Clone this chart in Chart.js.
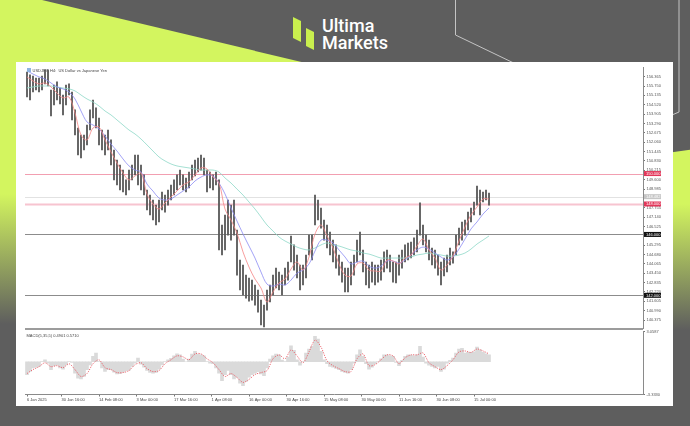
<!DOCTYPE html>
<html>
<head>
<meta charset="utf-8">
<script src="https://cdn.jsdelivr.net/npm/chart.js@4.4.1/dist/chart.umd.min.js"></script>
<style>
  html, body { margin: 0; padding: 0; }
  body { width: 690px; height: 426px; position: relative; overflow: hidden; background: #5e5e5e; }
  #bg { position: absolute; left: 0; top: 0; }
  #panel { position: absolute; left: 16px; top: 62px; width: 657px; height: 344px; background: #fff; }
  canvas.chart { position: absolute; left: 0; top: 0; }
</style>
</head>
<body>

<svg id="bg" width="690" height="426">
  <defs>
    <linearGradient id="gRight" x1="0" y1="0" x2="0" y2="1">
      <stop offset="0" stop-color="#d3f55f"/>
      <stop offset="0.3" stop-color="#d3f55f"/>
      <stop offset="1" stop-color="#5e5e5e"/>
    </linearGradient>
    <linearGradient id="gLeft" x1="0" y1="0" x2="0" y2="1">
      <stop offset="0" stop-color="#d3f55f"/>
      <stop offset="0.5" stop-color="#d3f55f"/>
      <stop offset="1" stop-color="#5e5e5e"/>
    </linearGradient>
  </defs>
  <rect width="690" height="426" fill="#5e5e5e"/>
  <polygon points="0,0 42,0 310,64 0,64" fill="#d3f55f"/>
  <rect x="0" y="64" width="16" height="260" fill="url(#gLeft)"/>
  <polygon points="672,152.3 690,149.8 690,330 672,330" fill="url(#gRight)"/>
  <polyline points="455.5,0 455.5,35 520,66" stroke="#c4c4c4" stroke-width="1" fill="none"/>
  <polyline points="679,0 679,112 672,115" stroke="#c4c4c4" stroke-width="1" fill="none"/>
  <!-- logo -->
  <polygon points="293,17 301,21 301,42 293,38" fill="#c9ef4e"/>
  <polygon points="306,28 314,32 314,50 306,46" fill="#c9ef4e"/>
  <text x="322" y="31.7" font-family="Roboto" font-weight="500" font-size="18" fill="#ffffff">Ultima</text>
  <text x="322" y="49.3" font-family="Roboto" font-weight="500" font-size="18" fill="#ffffff">Markets</text>
</svg>
<div id="panel"></div>
<canvas id="price" class="chart" width="690" height="426"></canvas>
<canvas id="macd" class="chart" width="690" height="426"></canvas>

<script>
/* =========================
   DATA (USDJPY H4)
   one sample ~ 5 H4 bars
========================= */

const barHigh = [
  156.67, 156.48, 156.41, 156.28, 156.28, 156.41, 156.81, 156.81, 155.49, 155.82,
  156.02, 155.62, 155.16, 155.82, 155.89, 155.36, 154.18, 152.99, 152.53, 152.53,
  153.19, 154.18, 154.83, 154.31, 153.65, 152.86, 152.53, 152.86, 152.21, 151.55,
  150.89, 150.56, 150.23, 149.58, 150.23, 150.56, 151.22, 151.22, 150.56, 149.91,
  148.92, 148.59, 148.26, 147.93, 148.26, 148.79, 148.59, 148.92, 149.25, 149.58,
  149.91, 150.23, 149.91, 149.71, 150.10, 150.56, 150.89, 151.02, 151.22, 151.02,
  150.23, 150.10, 149.91, 150.10, 149.58, 146.62, 147.28, 148.26, 147.93, 148.26,
  146.29, 144.32, 143.99, 143.33, 143.14, 143.00, 142.68, 142.35, 141.69, 141.36,
  142.35, 142.68, 143.33, 143.79, 143.53, 143.33, 143.79, 144.19, 145.90, 145.31,
  144.65, 143.99, 143.99, 144.65, 145.96, 145.96, 148.59, 148.26, 147.74, 146.95,
  146.62, 146.16, 145.63, 145.31, 144.65, 144.19, 143.79, 143.79, 144.19, 144.65,
  145.63, 146.16, 144.98, 144.19, 143.99, 144.19, 143.99, 143.99, 144.32, 144.85,
  144.98, 144.65, 144.19, 144.19, 144.65, 144.98, 145.31, 145.44, 145.50, 145.77,
  146.29, 148.07, 146.62, 145.96, 145.63, 145.11, 144.98, 144.65, 144.19, 144.45,
  144.65, 145.11, 144.85, 145.96, 146.42, 146.82, 146.95, 147.47, 147.74, 148.13,
  149.18, 148.92, 148.79, 148.92, 148.72
];

const barLow = [
  155.03, 154.83, 155.36, 155.49, 155.36, 155.49, 155.89, 155.75, 153.78, 154.51,
  154.83, 154.57, 153.85, 154.51, 155.16, 153.52, 152.53, 151.22, 151.02, 151.55,
  151.88, 152.86, 153.65, 152.99, 151.88, 151.55, 151.22, 151.55, 150.56, 149.58,
  149.25, 148.92, 148.79, 148.59, 148.92, 149.58, 149.91, 149.25, 148.92, 148.59,
  147.61, 147.28, 146.95, 146.62, 146.82, 147.61, 147.47, 147.93, 148.26, 148.59,
  148.92, 149.25, 148.92, 148.79, 149.05, 149.58, 149.84, 150.10, 150.23, 149.91,
  148.79, 149.05, 148.92, 149.25, 144.98, 144.65, 144.98, 145.96, 145.63, 145.96,
  143.33, 142.35, 142.02, 141.82, 141.62, 141.69, 141.36, 140.90, 140.05, 139.92,
  141.03, 141.56, 142.02, 142.48, 142.35, 142.02, 142.68, 143.00, 144.19, 143.66,
  143.14, 142.35, 142.68, 143.14, 144.65, 144.32, 146.62, 146.95, 146.42, 145.63,
  145.11, 144.65, 144.19, 143.79, 143.33, 142.87, 142.22, 142.22, 142.68, 143.33,
  144.19, 144.65, 143.53, 142.68, 142.48, 142.87, 142.68, 142.87, 143.00, 143.53,
  143.79, 143.53, 142.87, 142.81, 143.33, 143.79, 144.19, 144.32, 144.45, 144.65,
  144.85, 145.96, 145.31, 144.85, 144.32, 143.99, 143.79, 143.33, 142.68, 143.27,
  143.53, 143.99, 144.12, 144.65, 145.31, 145.63, 145.96, 146.29, 146.82, 147.28,
  147.93, 147.28, 148.13, 148.26, 147.93
];

// moving averages, one value every 2 samples
const maFast = [
  156.35, 156.08, 155.89, 155.95, 155.69, 155.29, 154.97, 155.03, 153.98, 152.53,
  152.21, 152.99, 153.06, 152.21, 151.42, 150.69, 150.04, 149.58, 149.84, 150.04,
  148.66, 148.00, 147.67, 148.07, 148.46, 148.85, 149.25, 149.45, 149.91, 150.37,
  150.30, 149.77, 149.38, 147.67, 146.95, 146.09, 144.85, 143.86, 143.07, 142.48,
  141.56, 142.22, 142.81, 143.07, 143.73, 144.19, 143.66, 144.52, 146.03, 146.62,
  145.90, 145.11, 144.06, 143.33, 143.27, 144.06, 144.12, 143.66, 143.60, 143.60,
  144.32, 144.25, 144.06, 144.45, 144.65, 145.24, 145.70, 144.98, 144.45, 143.66,
  143.99, 144.58, 145.57, 146.49, 147.28, 147.80, 148.33, 148.33
];
const maMid = [
  156.74, 156.54, 156.35, 156.21, 155.95, 155.69, 155.56, 155.36, 154.90, 154.11,
  153.39, 153.19, 152.93, 152.47, 151.94, 151.48, 150.96, 150.50, 150.23, 150.10,
  149.31, 148.85, 148.39, 148.26, 148.33, 148.59, 148.85, 149.12, 149.51, 149.77,
  149.91, 149.84, 149.38, 148.66, 147.74, 146.88, 146.03, 145.24, 144.45, 143.53,
  142.74, 142.61, 142.74, 142.68, 143.00, 143.46, 143.66, 144.06, 144.91, 145.63,
  145.63, 145.44, 144.98, 144.52, 144.06, 144.19, 144.25, 143.92, 143.79, 143.92,
  144.25, 144.25, 144.12, 144.32, 144.65, 144.98, 145.17, 145.04, 144.78, 144.52,
  144.32, 144.52, 145.04, 145.70, 146.36, 146.82, 147.34, 147.74
];
const maSlow = [
  155.62, 155.69, 155.75, 155.75, 155.75, 155.69, 155.62, 155.56, 155.43, 155.16,
  154.90, 154.70, 154.44, 154.11, 153.85, 153.52, 153.19, 152.86, 152.60, 152.27,
  151.88, 151.48, 151.09, 150.83, 150.63, 150.50, 150.43, 150.37, 150.30, 150.23,
  150.23, 150.23, 150.10, 149.71, 149.38, 148.98, 148.59, 148.13, 147.67, 147.15,
  146.62, 146.23, 145.83, 145.57, 145.37, 145.17, 145.04, 144.98, 145.11, 145.31,
  145.44, 145.31, 145.24, 145.11, 144.98, 144.91, 144.78, 144.71, 144.58, 144.45,
  144.45, 144.45, 144.45, 144.45, 144.52, 144.65, 144.71, 144.78, 144.71, 144.65,
  144.58, 144.58, 144.65, 144.78, 145.04, 145.37, 145.63, 145.90
];

// MACD main (histogram), one per sample
const macdMain = [
  -1.32, -0.98, -0.64, -0.54, -0.47, 0.03, 0.20, -0.14, -0.81, -0.41,
  -0.31, -0.64, -0.75, -0.31, 0.03, -0.07, -1.15, -1.66, -1.76, -1.49,
  -0.81, -0.31, 0.54, 0.88, 0.03, -0.64, -0.98, -0.81, -0.81, -1.05,
  -1.25, -1.22, -1.05, -0.92, -0.85, -0.47, -0.14, 0.37, -0.24, -0.54,
  -0.88, -1.08, -1.15, -1.08, -0.75, -0.31, 0.03, 0.20, 0.34, 0.61,
  0.81, 0.71, 0.27, 0.00, 0.27, 0.78, 1.05, 0.75, 0.71, 0.61,
  0.03, -0.14, -0.20, -0.64, -1.15, -1.93, -1.32, -0.88, -1.32, -1.76,
  -1.56, -2.17, -2.44, -2.00, -1.56, -1.32, -1.15, -1.02, -1.25, -1.42,
  -0.64, 0.27, 0.61, 0.78, 0.71, 0.17, 0.03, 0.47, 1.63, 1.15,
  0.20, -0.34, 0.03, 0.88, 1.29, 1.56, 2.58, 2.31, 1.05, 0.20,
  -0.20, -0.47, -0.54, -0.68, -0.81, -0.98, -1.08, -1.15, -0.81, -0.14,
  0.71, 1.22, 0.54, -0.20, -0.75, -0.54, -0.20, 0.03, 0.31, 0.71,
  0.71, 0.61, 0.54, -0.07, -0.41, 0.14, 0.54, 0.71, 0.68, 0.61,
  0.71, 1.56, 0.47, -0.14, -0.34, -0.47, -0.64, -0.47, -0.98, -0.75,
  -0.14, 0.14, 0.37, 0.88, 1.29, 1.36, 0.88, 0.95, 0.95, 1.02,
  1.49, 1.22, 0.95, 0.81, 0.71
];
// MACD signal, one value every 2 samples
const macdSignal = [
  -1.2, -0.8, -0.5, -0.1, -0.5, -0.4, -0.6, -0.2, -0.8, -1.5,
  -1.2, -0.2, 0.2, -0.6, -0.8, -1.1, -1.1, -0.9, -0.3, -0.1,
  -0.7, -1.0, -0.9, -0.2, 0.2, 0.6, 0.5, 0.2, 0.8, 0.8,
  0.3, -0.1, -0.8, -1.5, -1.2, -1.6, -2.1, -1.8, -1.3, -1.1,
  -0.9, 0.3, 0.7, 0.3, 1.2, 0.6, -0.1, 1.0, 2.2, 1.5,
  0.1, -0.4, -0.7, -1.0, -1.0, 0.3, 0.8, -0.4, -0.3, 0.2,
  0.7, 0.6, -0.2, 0.4, 0.7, 0.7, 0.9, -0.1, -0.5, -0.8,
  -0.4, 0.2, 1.0, 1.1, 0.95, 1.3, 1.1, 0.8
];

const priceTicks = [
  156.365, 155.750, 155.135, 154.520, 153.905, 153.290, 152.675, 152.060, 151.445,
  150.830, 150.215, 149.600, 148.985, 148.370, 147.755, 147.140, 146.525, 145.910,
  145.295, 144.680, 144.065, 143.450, 142.835, 142.220, 141.605, 140.990, 140.375
];
const macdTicks = [3.0587, -3.3330];

const dateLabels = [
  "6 Jan 2025", "30 Jan 16:00", "14 Feb 08:00", "3 Mar 00:00", "17 Mar 16:00",
  "1 Apr 08:00", "16 Apr 00:00", "30 Apr 16:00", "15 May 08:00", "30 May 00:00",
  "11 Jun 16:00", "30 Jun 08:00", "15 Jul 00:00"
];
const dateBars = [0, 59, 123, 187, 251, 315, 379, 443, 507, 571, 635, 699, 763];

const levelValues = [150.000, 148.482, 148.000, 146.000, 142.000];
const levelTexts  = ["150.000", "148.482", "148.000", "146.000", "142.000"];

/* =========================
   STYLE / LAYOUT
========================= */

const BARS_PER_SAMPLE = 5.12;
const MA_STEP = 2;
const X_MIN = -0.667;
const X_MAX = 205.333;

const levelStyles = [
  { line: "#f29fb1", width: 1, box: "#e2375a", text: "#fff" },
  { line: "#e2e2e2", width: 1, box: "#c6c6c6", text: "#fff" },
  { line: "#f7c4d0", width: 2, box: "#e2375a", text: "#fff" },
  { line: "#8c8c8c", width: 1, box: "#111111", text: "#fff" },
  { line: "#8c8c8c", width: 1, box: "#111111", text: "#fff" }
];

Chart.defaults.font.family = "'Liberation Sans', 'DejaVu Sans', sans-serif";
Chart.defaults.font.size = 4;

/* =========================
   PLUGINS
========================= */

const levelsPlugin = {
  id: "levels",
  beforeDatasetsDraw(chart) {
    const { ctx, chartArea } = chart;
    const y = chart.scales.y;
    ctx.save();
    levelValues.forEach((v, i) => {
      const st = levelStyles[i];
      const py = Math.round(y.getPixelForValue(v)) + 0.5;
      ctx.strokeStyle = st.line;
      ctx.lineWidth = st.width;
      ctx.beginPath();
      ctx.moveTo(chartArea.left, py);
      ctx.lineTo(chartArea.right, py);
      ctx.stroke();
    });
    ctx.restore();
  },
  afterDraw(chart) {
    const { ctx, chartArea } = chart;
    const y = chart.scales.y;
    ctx.save();
    // separator under price pane
    ctx.strokeStyle = "#9c9c9c";
    ctx.lineWidth = 2;
    ctx.beginPath();
    ctx.moveTo(chartArea.left, chartArea.bottom + 1);
    ctx.lineTo(chartArea.right, chartArea.bottom + 1);
    ctx.stroke();

    // level boxes on the price axis
    ctx.font = "4px 'Liberation Sans'";
    ctx.textBaseline = "middle";
    levelValues.forEach((v, i) => {
      const st = levelStyles[i];
      const py = y.getPixelForValue(v);
      ctx.fillStyle = st.box;
      ctx.fillRect(chartArea.right + 1, py - 2.5, 17, 5);
      ctx.fillStyle = st.text;
      ctx.fillText(levelTexts[i], chartArea.right + 3, py + 0.3);
    });

    // title
    ctx.fillStyle = "#8fb4e0";
    ctx.fillRect(chartArea.left + 2, chartArea.top + 1, 4, 4);
    ctx.fillStyle = "#444";
    ctx.textBaseline = "alphabetic";
    ctx.fillText("USDJPY, H4:  US Dollar vs Japanese Yen", chartArea.left + 7.5, chartArea.top + 4.5);
    ctx.restore();
  }
};

const macdTitle = {
  id: "macdTitle",
  afterDraw(chart) {
    const { ctx, chartArea } = chart;
    ctx.save();
    ctx.font = "4px 'Liberation Sans'";
    ctx.fillStyle = "#444";
    ctx.fillText("MACD(5,35,5) 0.4901 0.5710", chartArea.left + 1.5, chartArea.top + 5);
    ctx.restore();
  }
};

/* =========================
   PRICE CHART
========================= */

new Chart(document.getElementById("price"), {
  type: "bar",
  data: {
    datasets: [
      {
        type: "bar",
        data: barHigh.map((h, i) => ({ x: i, y: [barLow[i], h] })),
        backgroundColor: "#5c5c5c",
        borderWidth: 0,
        barThickness: 1.2,
        grouped: false,
        order: 4
      },
      {
        type: "line",
        data: maSlow.map((v, j) => ({ x: j * MA_STEP, y: v })),
        borderColor: "#8ed8c8",
        borderWidth: 0.8,
        pointRadius: 0,
        tension: 0.35,
        order: 3
      },
      {
        type: "line",
        data: maMid.map((v, j) => ({ x: j * MA_STEP, y: v })),
        borderColor: "#8b8bf4",
        borderWidth: 0.8,
        pointRadius: 0,
        tension: 0.35,
        order: 2
      },
      {
        type: "line",
        data: maFast.map((v, j) => ({ x: j * MA_STEP, y: v })),
        borderColor: "#f58585",
        borderWidth: 0.8,
        pointRadius: 0,
        tension: 0.35,
        order: 1
      }
    ]
  },
  options: {
    responsive: false,
    animation: false,
    devicePixelRatio: 1,
    layout: { padding: { left: 25, top: 67, right: 17, bottom: 98 } },
    plugins: { legend: { display: false }, tooltip: { enabled: false } },
    scales: {
      x: { type: "linear", min: X_MIN, max: X_MAX, offset: false, display: false },
      y: {
        position: "right",
        min: 139.854,
        max: 157.0,
        afterFit(s) { s.width = 30; },
        afterBuildTicks(s) { s.ticks = priceTicks.map(v => ({ value: v })); },
        ticks: { color: "#555", padding: 1.5, callback: v => v.toFixed(3) },
        grid: { drawOnChartArea: false, tickLength: 2, color: "#777" },
        border: { color: "#8a8a8a" }
      }
    }
  },
  plugins: [levelsPlugin]
});

/* =========================
   MACD CHART
========================= */

new Chart(document.getElementById("macd"), {
  type: "bar",
  data: {
    datasets: [
      {
        type: "line",
        data: macdSignal.map((v, j) => ({ x: j * MA_STEP, y: v })),
        borderColor: "#ea5a64",
        borderWidth: 0.9,
        borderDash: [1.2, 1.2],
        pointRadius: 0,
        tension: 0.3,
        order: 1
      },
      {
        type: "bar",
        data: macdMain.map((v, i) => ({ x: i, y: v })),
        backgroundColor: "#dadada",
        borderWidth: 0,
        barThickness: 3,
        grouped: false,
        order: 2
      }
    ]
  },
  options: {
    responsive: false,
    animation: false,
    devicePixelRatio: 1,
    layout: { padding: { left: 25, top: 331.7, right: 17, bottom: 21.5 } },
    plugins: { legend: { display: false }, tooltip: { enabled: false } },
    scales: {
      x: {
        type: "linear",
        min: X_MIN,
        max: X_MAX,
        offset: false,
        afterFit(s) { s.height = 10; },
        afterBuildTicks(s) { s.ticks = dateBars.map(b => ({ value: b / BARS_PER_SAMPLE })); },
        ticks: {
          color: "#444",
          align: "start",
          maxRotation: 0,
          autoSkip: false,
          padding: 1,
          callback: (v, i) => dateLabels[i]
        },
        grid: { drawOnChartArea: false, tickLength: 2, color: "#777", offset: false },
        border: { color: "#8a8a8a", width: 1 }
      },
      y: {
        position: "right",
        min: -3.333,
        max: 3.0587,
        afterFit(s) { s.width = 30; },
        afterBuildTicks(s) { s.ticks = macdTicks.map(v => ({ value: v })); },
        ticks: { color: "#555", padding: 1.5, callback: v => v.toFixed(4) },
        grid: { drawOnChartArea: false, tickLength: 2, color: "#777" },
        border: { color: "#8a8a8a" }
      }
    }
  },
  plugins: [macdTitle]
});
</script>
</body>
</html>
